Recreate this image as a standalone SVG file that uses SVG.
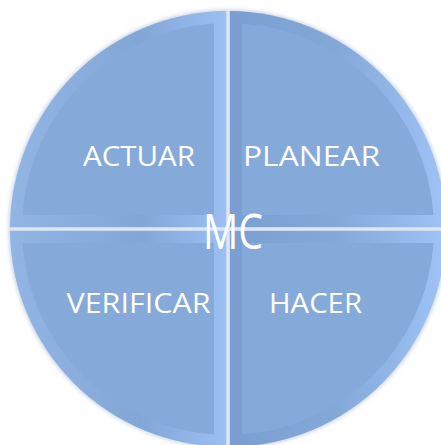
<svg xmlns="http://www.w3.org/2000/svg" width="441" height="445" viewBox="0 0 441 445">
  <style>
    .lbl { font-family: "Open Sans", "Liberation Sans", sans-serif; font-size: 27px; fill: #ffffff; }
    .mc { font-family: "Open Sans", "Liberation Sans", sans-serif; font-size: 49px; fill: #ffffff; }
    .face { fill: #85a9d9; }
    .div { stroke: #d8e6f7; stroke-width: 3; }
  </style>
  <defs>
    <linearGradient id="bevL" gradientUnits="userSpaceOnUse" x1="10" y1="0" x2="228" y2="0">
      <stop offset="0" stop-color="#92b5e4"/>
      <stop offset="0.6" stop-color="#82a6d6"/>
      <stop offset="1" stop-color="#9cc0f2"/>
    </linearGradient>
    <linearGradient id="bevR" gradientUnits="userSpaceOnUse" x1="228" y1="0" x2="446" y2="0">
      <stop offset="0" stop-color="#7a9ecf"/>
      <stop offset="0.5" stop-color="#84a8d8"/>
      <stop offset="1" stop-color="#9fc3f4"/>
    </linearGradient>
    <filter id="soft" x="-10%" y="-10%" width="120%" height="120%">
      <feGaussianBlur stdDeviation="2"/>
    </filter>
  </defs>
  <rect width="441" height="445" fill="#ffffff"/>
  <circle cx="228" cy="229" r="219" fill="#c2cfe0" filter="url(#soft)"/>

  <g id="actuar">
    <path d="M226,227 L10,227 A218,218 0 0 1 226,11 Z" fill="url(#bevL)"/>
    <path class="face" d="M214,215 L22.5,215 A206,206 0 0 1 214,23.5 Z"/>
    <text class="lbl" x="139" y="166" text-anchor="middle" textLength="112" lengthAdjust="spacingAndGlyphs">ACTUAR</text>
  </g>
  <g id="planear">
    <path d="M230,227 L230,11 A218,218 0 0 1 446,227 Z" fill="url(#bevR)"/>
    <path class="face" d="M242,215 L242,23.5 A206,206 0 0 1 433.5,215 Z"/>
    <text class="lbl" x="311.5" y="166" text-anchor="middle" textLength="137" lengthAdjust="spacingAndGlyphs">PLANEAR</text>
  </g>
  <g id="hacer">
    <path d="M230,231 L446,231 A218,218 0 0 1 230,447 Z" fill="url(#bevR)"/>
    <path class="face" d="M242,243 L433.5,243 A206,206 0 0 1 242,434.5 Z"/>
    <text class="lbl" x="315.5" y="313" text-anchor="middle" textLength="93" lengthAdjust="spacingAndGlyphs">HACER</text>
  </g>
  <g id="verificar">
    <path d="M226,231 L226,447 A218,218 0 0 1 10,231 Z" fill="url(#bevL)"/>
    <path class="face" d="M214,243 L214,434.5 A206,206 0 0 1 22.5,243 Z"/>
    <text class="lbl" x="138.5" y="313" text-anchor="middle" textLength="144" lengthAdjust="spacingAndGlyphs">VERIFICAR</text>
  </g>

  <g id="connectors">
    <line class="div" x1="228" y1="11" x2="228" y2="445"/>
    <line class="div" x1="10" y1="229" x2="441" y2="229"/>
  </g>

  <g id="mc">
    <text class="mc" x="233" y="249" text-anchor="middle" textLength="60" lengthAdjust="spacingAndGlyphs">MC</text>
  </g>
</svg>
